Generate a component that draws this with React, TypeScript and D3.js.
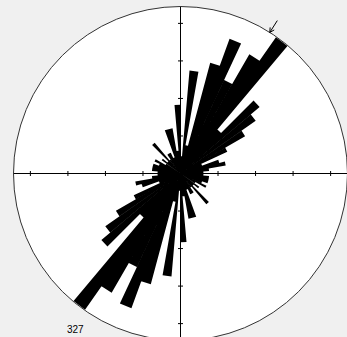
import * as d3 from "d3";
import React from "react";

// rose diagram, 5 degree bins over 0-180 (axial data, plotted both ways)
const binStart = d3.range(0, 180, 5);
const binCount = [
  3, 18, 5, 20, 25, 18, 24, 29, 10, 18, 16, 13, 9, 4, 7, 8, 5, 4,
  4, 5, 5, 5, 4, 5, 3, 4, 3, 7, 3, 4, 4, 3, 8, 8, 4, 12,
];
const nLabel = "327";
const binWidth = 5;

const width = 347;
const height = 337;
const cx = 180.5;
const cy = 173.5;
const R = 167;
const outerPct = 8.9;

const rad = (deg: number) => (deg * Math.PI) / 180;

const App = () => {
  const total = d3.sum(binCount);
  const rScale = d3.scaleLinear().domain([0, outerPct]).range([0, R]);
  const ticks = rScale.ticks(5).filter((t) => t > 0);

  const petal = d3
    .lineRadial<[number, number]>()
    .angle((d) => d[0])
    .radius((d) => d[1])
    .curve(d3.curveLinearClosed);

  // one path for all petals so neighbouring bins don't leave seams
  const petals = binStart
    .flatMap((start, i) => {
      const r = rScale((binCount[i] / total) * 100);
      return [0, 180].map((off) =>
        petal([
          [0, 0],
          [rad(start + off), r],
          [rad(start + off + binWidth), r],
        ])
      );
    })
    .join("");

  // axial mean direction
  const S = d3.sum(binStart, (s, i) => binCount[i] * Math.sin(rad(2 * (s + binWidth / 2))));
  const C = d3.sum(binStart, (s, i) => binCount[i] * Math.cos(rad(2 * (s + binWidth / 2))));
  const meanAz = Math.atan2(S, C) / 2;
  const pt = (a: number, r: number) => [r * Math.sin(a), -r * Math.cos(a)];
  const [tipX, tipY] = pt(meanAz, R);
  const [tailX, tailY] = pt(meanAz, R + 14);
  const headLen = 5;
  const back = Math.atan2(tailY - tipY, tailX - tipX);
  const head = [back - 0.5, back + 0.5].map((a) => [
    tipX + headLen * Math.cos(a),
    tipY + headLen * Math.sin(a),
  ]);

  return (
    <svg
      width={width}
      height={height}
      style={{ position: "absolute", left: 0, top: 0 }}
    >
      <rect width={width} height={height} fill="#f0f0f0" />
      <g transform={`translate(${cx},${cy})`}>
        <circle r={R} fill="#fff" stroke="#333" strokeWidth={1} />
        <line x1={-R} x2={R} y1={0} y2={0} stroke="#000" />
        <line x1={0} x2={0} y1={-R} y2={R} stroke="#000" />
        {ticks.flatMap((t) => {
          const r = rScale(t);
          return [
            <line key={`e${t}`} x1={r} x2={r} y1={-2.5} y2={2.5} stroke="#000" />,
            <line key={`w${t}`} x1={-r} x2={-r} y1={-2.5} y2={2.5} stroke="#000" />,
            <line key={`n${t}`} x1={-2.5} x2={2.5} y1={-r} y2={-r} stroke="#000" />,
            <line key={`s${t}`} x1={-2.5} x2={2.5} y1={r} y2={r} stroke="#000" />,
          ];
        })}
        <path d={petals} fill="#000" fillRule="nonzero" />
        <line x1={tailX} y1={tailY} x2={tipX} y2={tipY} stroke="#000" />
        {head.map(([x, y], i) => (
          <line key={i} x1={tipX} y1={tipY} x2={x} y2={y} stroke="#000" />
        ))}
      </g>
      <text
        x={67}
        y={333}
        fontFamily="Liberation Sans, Arial, sans-serif"
        fontSize={10}
        fill="#000"
      >
        {nLabel}
      </text>
    </svg>
  );
};

export default App;
